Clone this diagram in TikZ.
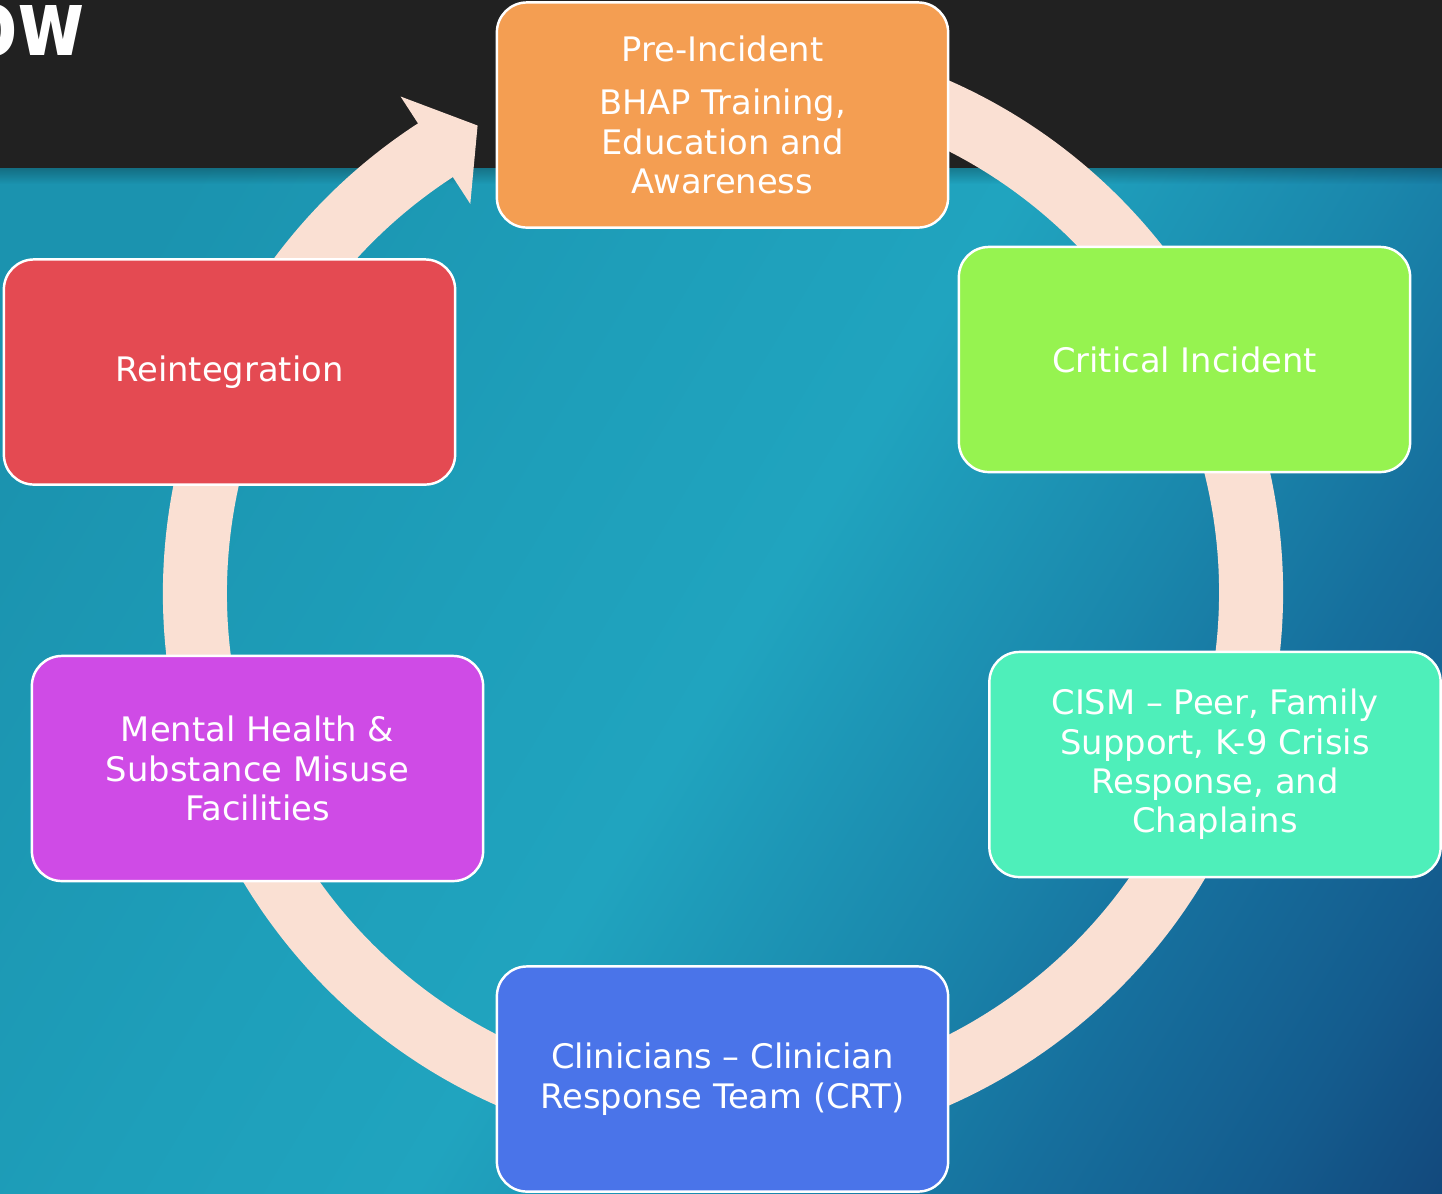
\documentclass[tikz,border=0pt]{standalone}
\usepackage{fontspec}
\setmainfont{DejaVu Sans}
\usetikzlibrary{fadings}
\tikzstyle{slide} = [x = .01cm, y = -.01cm]
\definecolor{bandColor}{HTML}{212121}
\definecolor{ringColor}{HTML}{FAE0D3}
\definecolor{preColor}{HTML}{F49E52}
\definecolor{criticalColor}{HTML}{96F350}
\definecolor{cismColor}{HTML}{4EEFBA}
\definecolor{clinicianColor}{HTML}{4A74E9}
\definecolor{facilityColor}{HTML}{CF4BE6}
\definecolor{reintegrationColor}{HTML}{E44A52}
\definecolor{seaA}{HTML}{1B93AF}
\definecolor{seaB}{HTML}{1E9FBA}
\definecolor{seaC}{HTML}{20A4BF}
\definecolor{seaD}{HTML}{1A87AC}
\definecolor{seaE}{HTML}{166F9D}
\definecolor{seaF}{HTML}{145C8E}
\definecolor{seaG}{HTML}{124478}
\pgfdeclarehorizontalshading{seaShade}{100bp}{color(0bp)=(seaA); color(22bp)=(seaA); color(40bp)=(seaB); color(50bp)=(seaC); color(62bp)=(seaD); color(70bp)=(seaE); color(78bp)=(seaF); color(86bp)=(seaG); color(100bp)=(seaG)}
\tikzstyle{stageBox} = [draw=white, line width=.7pt, rounded corners=.3cm, minimum width=4.51cm, minimum height=2.25cm, inner sep=0pt, align=center, text=white, font=\fontsize{9.6}{11.2}\selectfont]
\tikzstyle{ringLine} = [draw=ringColor, line width=.64cm]
\newcommand{\stage}[5]{\node [stageBox, fill=#2] (#1) at (#3, #4) {#5};}

\begin{document}
\begin{tikzpicture}[slide]
  \useasboundingbox (0,0) rectangle (1442,1193);
  \clip (0,0) rectangle (1442,1193);
  % slide background
  \fill [bandColor] (0,0) rectangle (1442,168);
  \shade [shading=seaShade, shading angle=-31] (0,168) rectangle (1442,1193);
  \fill [black, opacity=.25, path fading=south] (0,168) rectangle (1442,184);
  \node [anchor=base east, inner sep=0pt, xscale=.8, transform shape, text=white, font=\fontsize{26}{26}\selectfont\bfseries] (titleText) at (86,55) {ow};
  % cycle arrow
  \coordinate (ringCenter) at (723,593);
  \draw [ringLine] (ringCenter) ++(-80:528) arc [start angle=-80, end angle=237.5, radius=528];
  \fill [ringColor, shift={(ringCenter)}] (237:592) -- (242.3:528) -- (237:464) -- cycle;
  % stages
  \stage{preIncident}{preColor}{722.5}{115}{Pre-Incident\\[4pt]BHAP Training,\\Education and\\Awareness}
  \stage{criticalIncident}{criticalColor}{1184.5}{359.5}{Critical Incident}
  \stage{cism}{cismColor}{1215}{764.5}{CISM -- Peer, Family\\Support, K-9 Crisis\\Response, and\\Chaplains}
  \stage{clinicians}{clinicianColor}{722.5}{1079}{Clinicians -- Clinician\\Response Team (CRT)}
  \stage{facilities}{facilityColor}{257.5}{768.5}{Mental Health \&\\Substance Misuse\\Facilities}
  \stage{reintegration}{reintegrationColor}{229.5}{372}{Reintegration}
\end{tikzpicture}
\end{document}
